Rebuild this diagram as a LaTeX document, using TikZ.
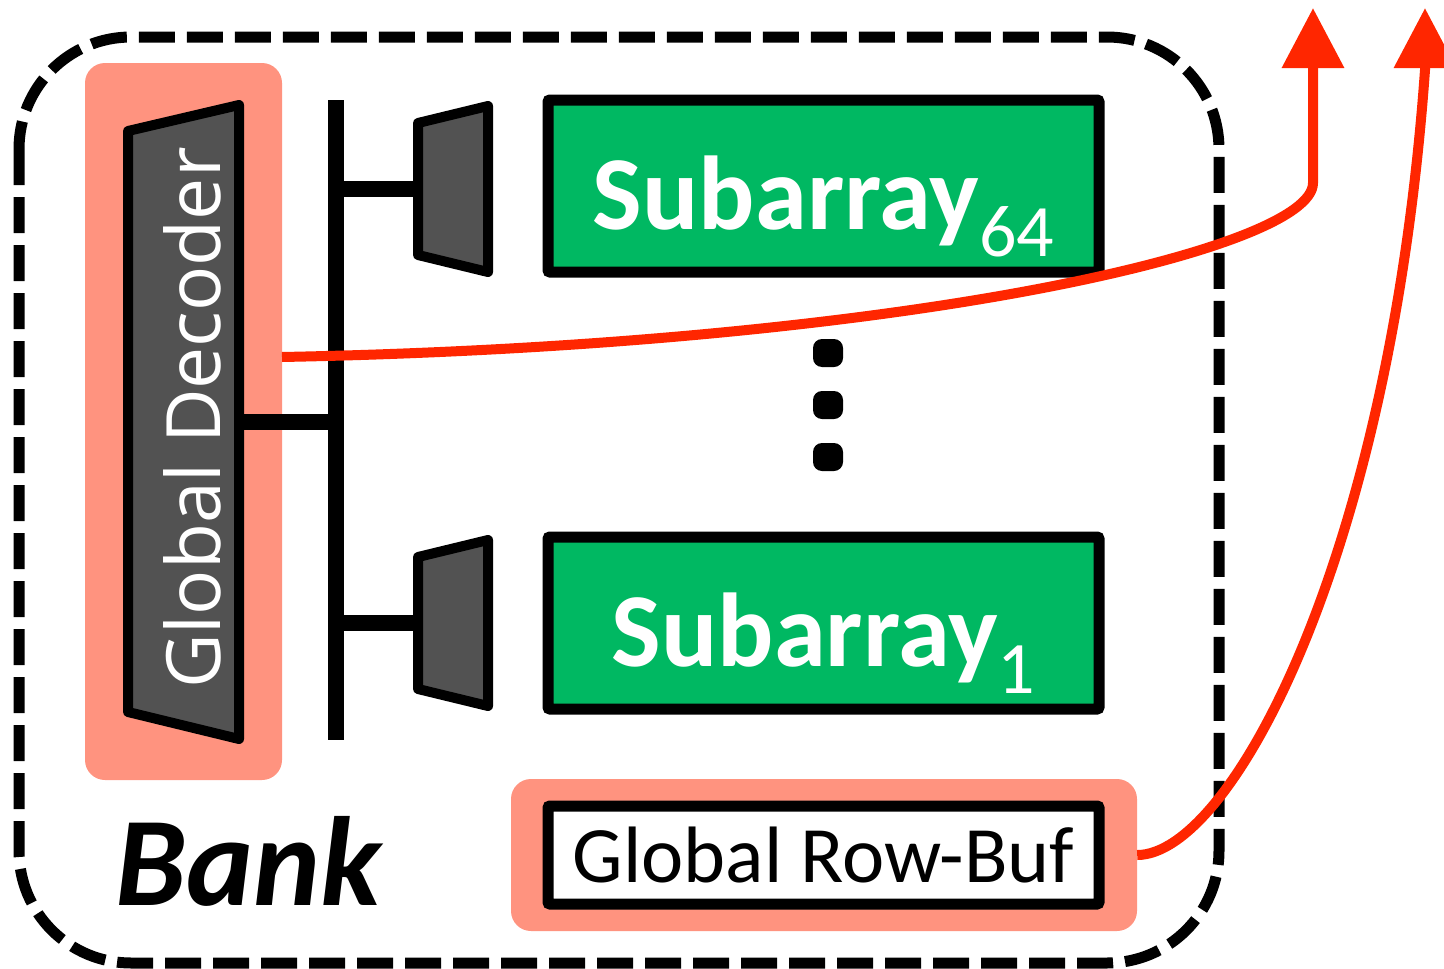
\documentclass[tikz,border=0pt]{standalone}
\usepackage{fontspec}
\setmainfont{Carlito}
\newfontfamily\decfont{Open Sans}
\definecolor{mysalmon}{HTML}{FF937F}
\definecolor{mygreen}{HTML}{00B862}
\definecolor{mygray}{HTML}{525252}
\definecolor{myred}{HTML}{FF2600}
\usetikzlibrary{arrows.meta, calc, positioning}
\tikzset{
	glowbox/.style={fill=mysalmon, rounded corners=20pt, inner sep=0pt}
}
\tikzset{
	arraybox/.style={draw, line width=11pt, fill=mygreen, rounded corners=2pt,
		minimum width=551pt, minimum height=172pt, inner sep=0pt},
	arraytext/.style={font=\fontsize{105}{110}\selectfont\bfseries, text=white, inner sep=0pt},
	bufbox/.style={draw, line width=11pt, fill=white, rounded corners=2pt,
		minimum width=551pt, minimum height=98pt, inner sep=0pt,
		font=\fontsize{80}{90}\selectfont},
	decshape/.style={draw, line width=10pt, fill=mygray, line join=round},
	dectext/.style={font=\decfont\fontsize{75}{80}\selectfont, text=white, inner sep=0pt},
	busline/.style={line width=16pt},
	bankline/.style={line width=11pt, dash pattern=on 36pt off 12pt, rounded corners=112pt},
	dotbox/.style={fill, rounded corners=9pt, minimum width=30pt, minimum height=28pt, inner sep=0pt},
	redline/.style={draw=myred, line width=10pt, -{Triangle[width=60pt, length=60pt]}}
}
\newcommand{\subidx}[1]{\raisebox{-27pt}{\mdseries\fontsize{74}{74}\selectfont #1}}

\begin{document}
\begin{tikzpicture}[x=1pt, y=-1pt]
      \useasboundingbox (0,0) rectangle (1444,969);
      % bank outline
      \draw[bankline] (19,37) rectangle (1219,963);
      % highlighted parts
      \node[glowbox, minimum width=197pt, minimum height=717pt] (gdbg) at (183.5,421.5) {};
      \node[glowbox, minimum width=626pt, minimum height=152pt] (rbbg) at (824,855) {};
      % global decoder
      \draw[decshape] (128,131) -- (239,105) -- (239,739) -- (128,712) -- cycle;
      \node[dectext, rotate=90, anchor=base] (gd) at (220,418) {Global Decoder};
      % bus
      \coordinate (bustop) at (336,100);
      \coordinate (busbot) at (336,740);
      \coordinate (gdout) at (239,422);
      \draw[busline] (bustop) -- (busbot);
      \draw[busline] (gdout) -- (gdout -| bustop);
      % local decoders
      \foreach \c [count=\i] in {189, 623} {
        \coordinate (ld\i) at (418,\c);
        \draw[busline] (bustop |- ld\i) -- (ld\i);
        \draw[decshape] (418,{\c-66}) -- (488,{\c-83}) -- (488,{\c+83}) -- (418,{\c+66}) -- cycle;
      }
      % subarrays
      \foreach \n/\c in {64/186, 1/623} {
        \node[arraybox] (sa\n) at (823.5,\c) {};
        \node[arraytext, anchor=base] at ($(sa\n.center)+(0,43)$) {Subarray\subidx{\n}};
      }
      \foreach \y in {353, 405, 457}
        \node[dotbox] (dot\y) at (828,\y) {};
      % row buffer
      \node[bufbox] (rb) at (823.5,855) {Global Row-Buf};
      \node[anchor=base west, inner sep=0pt, font=\fontsize{127}{130}\selectfont\bfseries\itshape] (bank) at (115,905) {Bank};
      % outputs
      \coordinate (gdtap) at (282,357);
      \coordinate (out1) at (1313,8);
      \coordinate (out2) at (1425,8);
      \draw[redline] (gdtap) .. controls (900,345) and (1313,250) .. (1313,183) -- (out1);
      \draw[redline] (rbbg.east) .. controls (1230,855) and (1390,560) .. (1425,70) -- (out2);
    \end{tikzpicture}
\end{document}
